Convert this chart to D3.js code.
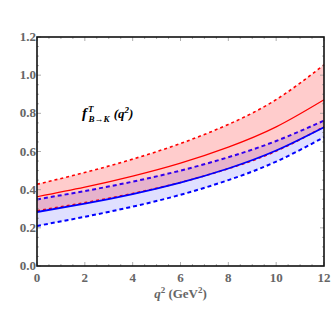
<!DOCTYPE html>
<html>
<head>
<meta charset="utf-8">
<script src="https://cdn.jsdelivr.net/npm/d3@7"></script>
<style>
  body { margin: 0; background: #fff; }
  svg { display: block; }
</style>
</head>
<body>
<svg id="chart"></svg>
<script>
const qsq = [0, 2, 4, 6, 8, 10, 12];

// red band (upper dashed, central solid, lower dashed)
const redUpper = [0.428, 0.49, 0.56, 0.642, 0.742, 0.872, 1.054];
const redCentral = [0.363, 0.413, 0.471, 0.539, 0.623, 0.729, 0.871];
const redLower = [0.29, 0.332, 0.38, 0.438, 0.51, 0.602, 0.73];

// blue band
const blueUpper = [0.349, 0.393, 0.442, 0.5, 0.57, 0.655, 0.762];
const blueCentral = [0.283, 0.327, 0.377, 0.437, 0.511, 0.605, 0.727];
const blueLower = [0.21, 0.258, 0.311, 0.373, 0.45, 0.547, 0.675];

const xTicks = [0, 2, 4, 6, 8, 10, 12];
const yTicks = [0, 0.2, 0.4, 0.6, 0.8, 1.0, 1.2];

const width = 332, height = 332;
const margin = { top: 37, right: 8, bottom: 66, left: 37 };
const serif = "'Liberation Serif', 'Times New Roman', Times, serif";

const svg = d3.select('#chart').attr('width', width).attr('height', height)
  .style('font-family', serif);

const x = d3.scaleLinear().domain([0, 12]).range([margin.left, width - margin.right]);
const y = d3.scaleLinear().domain([0, 1.2]).range([height - margin.bottom, margin.top]);

const pts = (arr) => qsq.map((q, i) => [q, arr[i]]);

const line = d3.line().x((d) => x(d[0])).y((d) => y(d[1])).curve(d3.curveNatural);
const area = d3.area()
  .x((d) => x(d.q))
  .y0((d) => y(d.lo))
  .y1((d) => y(d.hi))
  .curve(d3.curveNatural);

const band = (lo, hi) => qsq.map((q, i) => ({ q: q, lo: lo[i], hi: hi[i] }));

// fills
svg.append('path')
  .attr('d', area(band(blueLower, blueUpper)))
  .attr('fill', 'rgb(0,0,255)')
  .attr('fill-opacity', 0.12);

svg.append('path')
  .attr('d', area(band(redLower, redUpper)))
  .attr('fill', 'rgb(255,0,0)')
  .attr('fill-opacity', 0.2);

// lines
const lines = [
  { data: blueLower, color: '#0000ff', dash: '4,3', w: 2 },
  { data: blueUpper, color: '#3300ee', dash: '4,3', w: 2 },
  { data: redUpper, color: '#ff0000', dash: '3,3', w: 1.6 },
  { data: redLower, color: '#ff0000', dash: '3,3', w: 1.6 },
  { data: blueCentral, color: '#0000ff', dash: null, w: 1.8 },
  { data: redCentral, color: '#ff0000', dash: null, w: 1.2 },
];

svg.append('g')
  .selectAll('path')
  .data(lines)
  .join('path')
  .attr('d', (d) => line(pts(d.data)))
  .attr('fill', 'none')
  .attr('stroke', (d) => d.color)
  .attr('stroke-width', (d) => d.w)
  .attr('stroke-dasharray', (d) => d.dash);

// ticks (inward, light gray)
const tickColor = '#999';
const bottomY = y(0), topY = y(1.2), leftX = x(0), rightX = x(12);
const xMinor = d3.range(0, 12.01, 0.5);
const yMinor = d3.range(0, 1.201, 0.05);

const tg = svg.append('g').attr('stroke', tickColor).attr('stroke-width', 0.8);
xMinor.forEach((v) => {
  const len = Math.abs(v % 2) < 1e-6 ? 4 : 2;
  tg.append('line').attr('x1', x(v)).attr('x2', x(v)).attr('y1', bottomY).attr('y2', bottomY - len);
  tg.append('line').attr('x1', x(v)).attr('x2', x(v)).attr('y1', topY).attr('y2', topY + len);
});
yMinor.forEach((v) => {
  const len = Math.abs(Math.round(v * 100) % 20) < 1e-6 ? 4 : 2;
  tg.append('line').attr('x1', leftX).attr('x2', leftX + len).attr('y1', y(v)).attr('y2', y(v));
  tg.append('line').attr('x1', rightX).attr('x2', rightX - len).attr('y1', y(v)).attr('y2', y(v));
});

// frame
svg.append('rect')
  .attr('x', leftX)
  .attr('y', topY)
  .attr('width', rightX - leftX)
  .attr('height', bottomY - topY)
  .attr('fill', 'none')
  .attr('stroke', '#111')
  .attr('stroke-width', 1.6);

// tick labels
svg.append('g')
  .selectAll('text')
  .data(xTicks)
  .join('text')
  .attr('x', (d) => x(d))
  .attr('y', bottomY + 16)
  .attr('text-anchor', 'middle')
  .attr('font-family', serif)
  .attr('font-weight', 'bold')
  .attr('font-size', 13)
  .attr('fill', '#666')
  .text((d) => d);

svg.append('g')
  .selectAll('text')
  .data(yTicks)
  .join('text')
  .attr('x', leftX - 1)
  .attr('y', (d) => y(d) + 4)
  .attr('text-anchor', 'end')
  .attr('font-family', serif)
  .attr('font-weight', 'bold')
  .attr('font-size', 13)
  .attr('fill', '#666')
  .text((d) => d3.format('.1f')(d));

// x axis title
const xt = svg.append('text')
  .attr('x', x(6))
  .attr('y', bottomY + 32)
  .attr('text-anchor', 'middle')
  .attr('font-family', serif)
  .attr('font-weight', 'bold')
  .attr('font-size', 13)
  .attr('fill', '#666');
xt.append('tspan').attr('font-style', 'italic').text('q');
xt.append('tspan').attr('dy', -5).attr('font-size', 9).text('2');
xt.append('tspan').attr('dy', 5).text(' (GeV');
xt.append('tspan').attr('dy', -5).attr('font-size', 9).text('2');
xt.append('tspan').attr('dy', 5).text(')');

// annotation
const an = svg.append('text')
  .attr('x', 82)
  .attr('y', 118)
  .attr('font-family', serif)
  .attr('font-weight', 'bold')
  .attr('font-style', 'italic')
  .attr('font-size', 15)
  .attr('fill', '#000');
an.append('tspan').text('f');
an.append('tspan').attr('font-size', 9).attr('dx', 1).attr('dy', -6).text('T');
an.append('tspan').attr('font-size', 9).attr('dx', -5).attr('dy', 10).text('B→K');
an.append('tspan').attr('font-size', 13).attr('dy', -4).attr('dx', 1).text(' (q');
an.append('tspan').attr('font-size', 9).attr('dy', -5).text('2');
an.append('tspan').attr('font-size', 13).attr('dy', 5).text(')');
</script>
</body>
</html>
